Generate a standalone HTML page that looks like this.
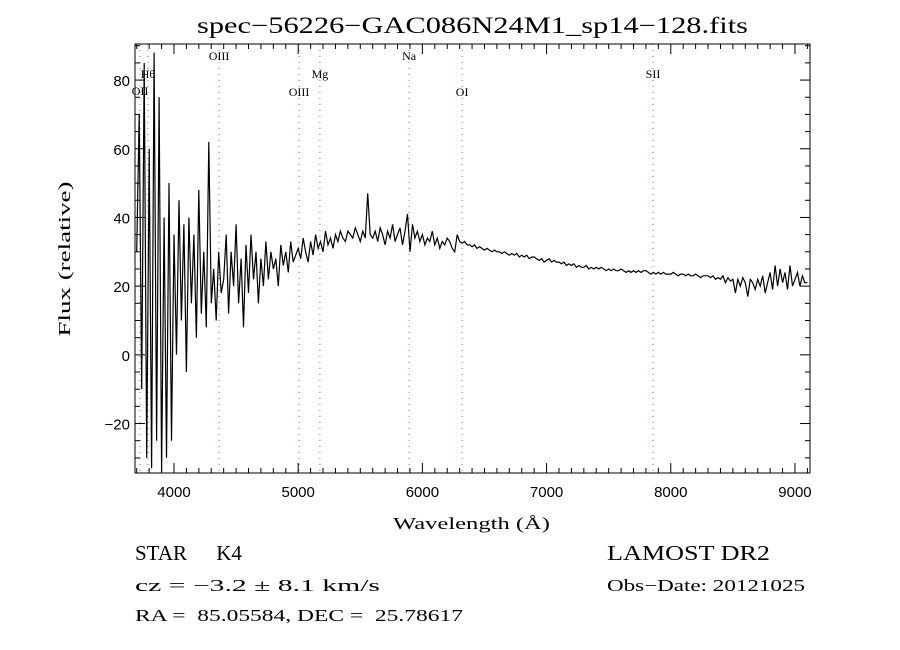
<!DOCTYPE html>
<html><head><meta charset="utf-8"><style>
html,body{margin:0;padding:0;background:#fff;width:900px;height:650px;overflow:hidden}
svg{display:block}
text{fill:#000}
.t{font-family:"Liberation Serif",serif}
.s{font-family:"Liberation Sans",sans-serif}
</style></head><body>
<svg id="chart" width="900" height="650" viewBox="0 0 900 650">
<text class="t" x="197" y="33" font-size="23" textLength="551" lengthAdjust="spacingAndGlyphs">spec−56226−GAC086N24M1_sp14−128.fits</text>
<g id="lines"></g>
<g id="spec"></g>
<g id="axes"></g>
<text class="t" x="393" y="529" font-size="17" textLength="157" lengthAdjust="spacingAndGlyphs">Wavelength (Å)</text>
<text class="t" x="0" y="0" font-size="17" text-anchor="middle" textLength="155" lengthAdjust="spacingAndGlyphs" transform="translate(70,259) rotate(-90)">Flux (relative)</text>
<text class="t" x="135" y="560" font-size="21">STAR <tspan dx="24">K4</tspan></text>
<text class="t" x="607" y="560" font-size="21" textLength="163" lengthAdjust="spacingAndGlyphs">LAMOST DR2</text>
<text class="t" x="135" y="591" font-size="17" textLength="245" lengthAdjust="spacingAndGlyphs">cz = −3.2 ± 8.1 km/s</text>
<text class="t" x="607" y="591" font-size="17" textLength="198" lengthAdjust="spacingAndGlyphs">Obs−Date: 20121025</text>
<text class="t" x="135" y="621" font-size="17" textLength="328" lengthAdjust="spacingAndGlyphs" xml:space="preserve">RA =  85.05584, DEC =  25.78617</text>
</svg>
<script>
const fluxStart = 3700;
const fluxStep = 20;
const flux = [
30,70,-10,85,-30, 60,-33,88,-25,75, -34,40,-30,50,-25, 35,0,45,10,38,
-5,40,15,35,5, 48,12,30,8,62, 15,25,10,30,18, 22,35,12,30,20,
38,15,28,8,32, 18,35,22,30,15, 28,20,33,22,30, 25,28,20,32,26,
30,24,33,27,29, 31,28,34,30,27, 33,29,35,31,33, 30,36,32,34,31,
35,33,36,34,33, 36,35,34,37,35, 33,36,34,47,35, 34,36,33,37,35,
32,36,34,38,33, 35,37,32,36,41, 30,38,34,36,33, 35,32,34,33,36,
32,34,31,33,32, 34,33,31,30,35, 33,32.5,33,32,32, 31.5,32,31,31.5,31,
30.5,31,30.5,30,30.5, 30,30,29.5,30,29.5, 29,29.5,29,29.5,28.5, 29,28.5,29,28,28.5,
28.5,28,27.5,28,27, 27.5,28,27,27.5,27, 27,26.5,27,26,26.5, 26,26.5,25.5,26,25.5,
25.5,26,25,25.5,25, 25.5,25,25.5,25,24.5, 25,24.5,25,24.5,24.5, 25,24.5,24,24.5,24,
24.5,24,24.5,24,24.5, 24.5,24,23.5,24,23.5, 24,23.5,24,23.5,23.5, 23.5,24,23.5,23,23.5,
23.5,23,23.5,23,23, 23.5,23,22.5,23,23, 23,22.5,23,22,22.5, 22,23,21,22.5,21.5,
22,18,22,20,22.5, 21,17,22,21,19, 22,20,23,18,21, 24,19,26,20,25,
21,24,19,26,20, 22,24,20,23,21, 21
];
const lineWaves = [3727,3790,4363,5007,5175,5893,6320,7857];
const lineNames = ["OII","Hθ","OIII","OIII","Mg","Na","OI","SII"];
const lineLabelY = [95,78,60,96,78,60,96,78];
const xTicks = [4000,5000,6000,7000,8000,9000];
const yTicks = [-20,0,20,40,60,80];

const L=135,R=810,T=44,B=473;
const xMin=3686,xMax=9121,yMin=-34.4,yMax=90.5;
const X=w=>L+(w-xMin)/(xMax-xMin)*(R-L);
const Y=f=>B-(f-yMin)/(yMax-yMin)*(B-T);
const NS="http://www.w3.org/2000/svg";
function mk(tag,parent){const e=document.createElementNS(NS,tag);parent.appendChild(e);return e;}

const gl=document.getElementById('lines');
lineWaves.forEach((w,i)=>{
  const l=mk('line',gl);
  
  
  l.setAttribute('x1',X(w));l.setAttribute('x2',X(w));l.setAttribute('y1',T);l.setAttribute('y2',B);
  l.setAttribute('stroke','#a04040');l.setAttribute('stroke-width','0.8');l.setAttribute('stroke-dasharray','1,5');
  const t=mk('text',gl);
  
  
  t.setAttribute('class','t');t.setAttribute('font-size','12');t.setAttribute('text-anchor','middle');
  t.setAttribute('x',X(w));t.setAttribute('y',lineLabelY[i]);t.textContent=lineNames[i];
});

const gs=document.getElementById('spec');
const pts=flux.map((f,i)=>{const c=Math.max(yMin,Math.min(yMax,f));return X(fluxStart+i*fluxStep).toFixed(1)+','+Y(c).toFixed(1);}).join(' ');
const pl=mk('polyline',gs);


pl.setAttribute('points',pts);pl.setAttribute('fill','none');pl.setAttribute('stroke','#000');pl.setAttribute('stroke-width','1.2');

const ga=document.getElementById('axes');
const fr=mk('rect',ga);


fr.setAttribute('x',L);fr.setAttribute('y',T);fr.setAttribute('width',R-L);fr.setAttribute('height',B-T);
fr.setAttribute('fill','none');fr.setAttribute('stroke','#000');fr.setAttribute('stroke-width','1');
function tick(x1,y1,x2,y2){const l=mk('line',ga);l.setAttribute('x1',x1);l.setAttribute('y1',y1);l.setAttribute('x2',x2);l.setAttribute('y2',y2);l.setAttribute('stroke','#000');l.setAttribute('stroke-width','1');

}
for(let w=3700;w<=xMax;w+=100){const x=X(w);const len=(w%1000===0)?10:5;tick(x,B,x,B-len);tick(x,T,x,T+len);}
for(let f=-30;f<=90;f+=5){const y=Y(f);const len=(f%20===0)?10:5;tick(L,y,L+len,y);tick(R,y,R-len,y);}
xTicks.forEach(v=>{const t=mk('text',ga);


t.setAttribute('class','s');t.setAttribute('font-size','15');t.setAttribute('text-anchor','middle');t.setAttribute('x',X(v));t.setAttribute('y',B+24);t.textContent=v;});
yTicks.forEach(v=>{const t=mk('text',ga);


t.setAttribute('class','s');t.setAttribute('font-size','15');t.setAttribute('text-anchor','end');t.setAttribute('x',L-5);t.setAttribute('y',Y(v)+6);t.textContent=(v<0?'−'+(-v):v);});
</script>
</body></html>
